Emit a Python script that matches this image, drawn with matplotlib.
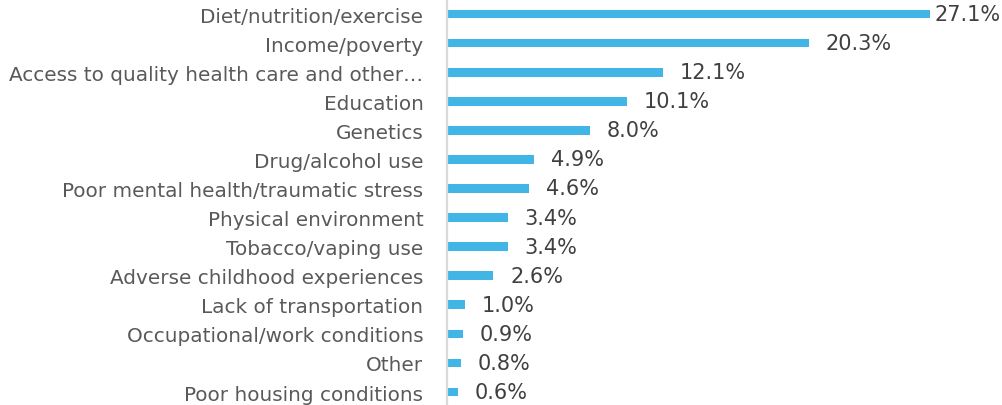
import matplotlib
matplotlib.use("Agg")
import matplotlib.pyplot as plt

categories = [
    "Diet/nutrition/exercise",
    "Income/poverty",
    "Access to quality health care and other…",
    "Education",
    "Genetics",
    "Drug/alcohol use",
    "Poor mental health/traumatic stress",
    "Physical environment",
    "Tobacco/vaping use",
    "Adverse childhood experiences",
    "Lack of transportation",
    "Occupational/work conditions",
    "Other",
    "Poor housing conditions",
]
values = [27.1, 20.3, 12.1, 10.1, 8.0, 4.9, 4.6, 3.4, 3.4, 2.6, 1.0, 0.9, 0.8, 0.6]
value_labels = ["27.1%", "20.3%", "12.1%", "10.1%", "8.0%", "4.9%", "4.6%",
                "3.4%", "3.4%", "2.6%", "1.0%", "0.9%", "0.8%", "0.6%"]

W, H = 1002, 406
dpi = 100
fig = plt.figure(figsize=(W / dpi, H / dpi), dpi=dpi)
plt.rcParams['font.family'] = ['DejaVu Sans']

left_px, right_px = 447, 1000
ax = fig.add_axes([left_px / W, 0, (right_px - left_px) / W, 1])

bar_color = "#41b6e6"
pos = list(range(len(categories)))
ax.barh(pos, values, height=0.3, color=bar_color)

xmax = 27.1 * (right_px - left_px) / (930 - left_px)
ax.set_xlim(0, xmax)
ax.set_ylim(13.446, -0.516)

for s in ["top", "right", "bottom"]:
    ax.spines[s].set_visible(False)
ax.spines["left"].set_color("#d9d9d9")
ax.spines["left"].set_linewidth(1.6)
ax.set_xticks([])
ax.set_yticks(pos)
ax.set_yticklabels(categories, fontsize=14.4, color="#595959")
ax.tick_params(axis="y", length=0, pad=17)

texts = []
for p, v, lab in zip(pos, values, value_labels):
    t = ax.annotate(lab, xy=(v, p), xytext=(12, 0), textcoords="offset points",
                    ha="left", va="center", fontsize=15, color="#404040",
                    annotation_clip=False)
    texts.append(t)

fig.canvas.draw()
r = fig.canvas.get_renderer()
for t in texts:
    bb = t.get_window_extent(r)
    if bb.x1 > W - 1:
        ox, oy = t.xyann
        t.xyann = (ox - (bb.x1 - (W - 1)) * 72 / dpi, oy)

fig.savefig("out.png", dpi=dpi)
